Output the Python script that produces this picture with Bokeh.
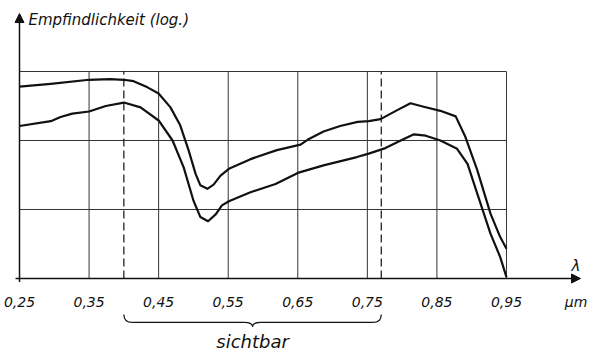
from bokeh.plotting import figure
from bokeh.models import Range1d, FixedTicker, Arrow, NormalHead, Label, CustomJSTickFormatter
from bokeh.embed import file_html
from bokeh.resources import INLINE

# ---- data ----
x_tick_values = [0.25, 0.35, 0.45, 0.55, 0.65, 0.75, 0.85, 0.95, 1.05]
x_tick_labels = ["0,25", "0,35", "0,45", "0,55", "0,65", "0,75", "0,85", "0,95", "μm"]
grid_x = [0.35, 0.45, 0.55, 0.65, 0.75, 0.85, 0.95]
grid_y = [1, 2, 3]
visible_range = [0.40, 0.77]

upper_x = [0.25, 0.295, 0.35, 0.38, 0.40, 0.414, 0.434, 0.45, 0.467, 0.481, 0.493, 0.503,
           0.51, 0.52, 0.529, 0.539, 0.551, 0.582, 0.62, 0.654, 0.664, 0.687, 0.711, 0.736,
           0.752, 0.769, 0.793, 0.812, 0.831, 0.855, 0.877, 0.891, 0.908, 0.927, 0.941, 0.95]
upper_y = [2.78, 2.82, 2.88, 2.89, 2.88, 2.86, 2.77, 2.68, 2.48, 2.22, 1.86, 1.52,
           1.35, 1.30, 1.36, 1.49, 1.59, 1.73, 1.86, 1.94, 2.01, 2.13, 2.21, 2.27,
           2.28, 2.31, 2.44, 2.54, 2.49, 2.43, 2.35, 2.05, 1.57, 0.94, 0.60, 0.43]

lower_x = [0.25, 0.295, 0.309, 0.326, 0.35, 0.374, 0.40, 0.424, 0.45, 0.47, 0.486, 0.50,
           0.51, 0.521, 0.532, 0.541, 0.551, 0.582, 0.618, 0.65, 0.687, 0.735, 0.752, 0.776,
           0.798, 0.817, 0.834, 0.855, 0.879, 0.894, 0.908, 0.927, 0.941, 0.95]
lower_y = [2.21, 2.28, 2.34, 2.39, 2.42, 2.50, 2.55, 2.48, 2.29, 2.00, 1.61, 1.13,
           0.89, 0.83, 0.93, 1.06, 1.12, 1.25, 1.37, 1.53, 1.64, 1.76, 1.81, 1.89,
           2.00, 2.09, 2.07, 2.00, 1.88, 1.66, 1.23, 0.65, 0.31, 0.02]

x_min, x_max = x_tick_values[0], grid_x[-1]
y_max = grid_y[-1]

FONT = "DejaVu Sans"
INK = "#111111"

p = figure(width=590, height=351,
           x_range=Range1d(0.22269, 1.07077), y_range=Range1d(-1.058, 4.029),
           output_backend="svg", toolbar_location=None, y_axis_location=None,
           min_border=0, min_border_left=0, min_border_right=0,
           min_border_top=0, min_border_bottom=0)
p.outline_line_color = None
p.xgrid.visible = False
p.ygrid.visible = False
p.background_fill_color = "white"
p.border_fill_color = "white"

# x axis placed at y = 0, labels only
ax = p.xaxis[0]
ax.fixed_location = 0
ax.ticker = FixedTicker(ticks=x_tick_values)
ax.formatter = CustomJSTickFormatter(args=dict(labels=x_tick_labels), code="return labels[index];")
ax.axis_line_color = None
ax.major_tick_line_color = None
ax.minor_tick_line_color = None
ax.major_tick_out = 0
ax.major_tick_in = 0
ax.major_label_standoff = 16
ax.major_label_text_font = FONT
ax.major_label_text_font_style = "italic"
ax.major_label_text_font_size = "14px"
ax.major_label_text_color = INK

# grid box
p.segment(x0=grid_x, y0=[0] * len(grid_x), x1=grid_x, y1=[y_max] * len(grid_x),
          line_color="#333333", line_width=1)
p.segment(x0=[x_min] * len(grid_y), y0=grid_y, x1=[x_max] * len(grid_y), y1=grid_y,
          line_color="#333333", line_width=1)

# visible range limits (dashed)
p.segment(x0=visible_range, y0=[0, 0], x1=visible_range, y1=[y_max, y_max],
          line_color=INK, line_width=1.2, line_dash="8 4")

# curves
p.line(upper_x, upper_y, line_color=INK, line_width=2.2, line_join="round")
p.line(lower_x, lower_y, line_color=INK, line_width=2.2, line_join="round")

# axes with arrow heads
p.add_layout(Arrow(x_start=x_min, y_start=-0.05, x_end=x_min, y_end=3.84,
                   line_color=INK, line_width=1.5,
                   end=NormalHead(size=9, fill_color=INK, line_color=INK, line_width=1)))
p.add_layout(Arrow(x_start=0.2443, y_start=0, x_end=1.0564, y_end=0,
                   line_color=INK, line_width=1.5,
                   end=NormalHead(size=9, fill_color=INK, line_color=INK, line_width=1)))

# labels
p.add_layout(Label(x=x_min, y=3.74, x_offset=9, text="Empfindlichkeit (log.)",
                   text_font=FONT, text_font_style="italic", text_font_size="15px",
                   text_baseline="middle", text_color=INK))
p.add_layout(Label(x=1.05, y=0, y_offset=3, text="λ",
                   text_font=FONT, text_font_style="italic", text_font_size="15px",
                   text_align="center", text_baseline="bottom", text_color=INK))

# brace under the visible range
a, b = visible_range
m = (a + b) / 2
r = 0.012
y_end, y_line, y_tip = -0.52, -0.635, -0.70
p.quadratic(x0=[a, m - r, m, b - r], y0=[y_end, y_line, y_tip, y_line],
            x1=[a + r, m, m + r, b], y1=[y_line, y_tip, y_line, y_end],
            cx=[a, m, m, b], cy=[y_line, y_line, y_line, y_line],
            line_color=INK, line_width=1.2)
p.segment(x0=[a + r, m + r], y0=[y_line, y_line], x1=[m - r, b - r], y1=[y_line, y_line],
          line_color=INK, line_width=1.2)
p.add_layout(Label(x=m, y=-0.915, text="sichtbar",
                   text_font=FONT, text_font_style="italic", text_font_size="18px",
                   text_align="center", text_baseline="alphabetic", text_color=INK))

open("out.html", "w").write(file_html(p, INLINE))
